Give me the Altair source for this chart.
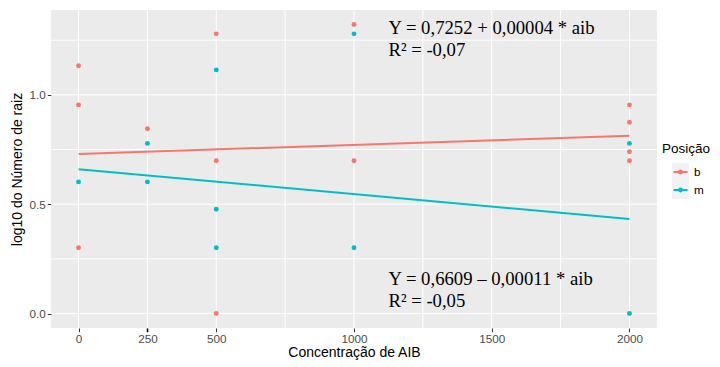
import altair as alt
import pandas as pd

# ---- data ----
b_x = [0, 0, 0, 250, 500, 500, 500, 1000, 1000, 2000, 2000, 2000, 2000]
b_y = [1.133, 0.954, 0.301, 0.845, 1.279, 0.699, 0.0, 1.322, 0.699, 0.954, 0.875, 0.740, 0.699]
m_x = [0, 250, 250, 500, 500, 500, 1000, 1000, 2000, 2000]
m_y = [0.602, 0.778, 0.602, 1.114, 0.477, 0.301, 1.279, 0.301, 0.778, 0.0]

line_x = [0, 2000]
b_line_y = [0.730, 0.813]
m_line_y = [0.660, 0.432]

groups = ["b", "m"]
colors = ["#F8766D", "#00BFC4"]

x_ticks = [0, 250, 500, 1000, 1500, 2000]
y_ticks = [0.0, 0.5, 1.0]
x_grid = [0, 250, 500, 750, 1000, 1250, 1500, 1750, 2000]
y_grid = [0.0, 0.25, 0.5, 0.75, 1.0, 1.25]

ann_x = [1125, 1125, 1125, 1125]
ann_y = [1.276, 1.176, 0.131, 0.031]
ann_text = ["Y = 0,7252 + 0,00004 * aib", "R² = -0,07",
            "Y = 0,6609 – 0,00011 * aib", "R² = -0,05"]

x_domain = [-100, 2100]
y_domain = [-0.066, 1.388]

# ---- tables ----
pts = pd.DataFrame({
    "x": b_x + m_x,
    "y": b_y + m_y,
    "g": ["b"] * len(b_x) + ["m"] * len(m_x),
})
lines = pd.DataFrame({
    "x": line_x + line_x,
    "y": b_line_y + m_line_y,
    "g": ["b"] * 2 + ["m"] * 2,
})
ann = pd.DataFrame({"x": ann_x, "y": ann_y, "t": ann_text})
xg = pd.DataFrame({"x": x_grid})
yg = pd.DataFrame({"y": y_grid})
leg = pd.DataFrame({"g": groups, "i": list(range(len(groups)))})

W, H = 606, 318
xs = alt.Scale(domain=x_domain, nice=False, zero=False)
ys = alt.Scale(domain=y_domain, nice=False, zero=False)
cs = alt.Scale(domain=groups, range=colors)

label_font = "Liberation Sans"

x_axis = alt.Axis(
    values=x_ticks, format="d", title="Concentração de AIB", grid=False, domain=False,
    labelFont=label_font, labelFontSize=11.7, labelColor="#4D4D4D",
    labelPadding=2,
    tickColor=alt.ExprRef("datum.value == 250 ? '#000000' : '#333333'"),
    tickWidth=alt.ExprRef("datum.value == 250 ? 1.6 : 1"),
    tickSize=3.7, titleFont=label_font, titleFontSize=14,
    titleFontWeight="normal", titleColor="black", titlePadding=0,
    labelFlush=False,
)
y_axis = alt.Axis(
    values=y_ticks, format=".1f", title="log10 do Número de raiz", grid=False,
    domain=False, labelFont=label_font, labelFontSize=11.7, labelColor="#4D4D4D",
    labelPadding=2, tickColor="#333333", tickSize=3.7, titleFont=label_font,
    titleFontSize=14, titleFontWeight="normal", titleColor="black",
    titlePadding=5, labelFlush=False,
)

vgrid = alt.Chart(xg).mark_rule(color="white", strokeWidth=1).encode(
    x=alt.X("x:Q", scale=xs, axis=x_axis)
)
hgrid = alt.Chart(yg).mark_rule(color="white", strokeWidth=1).encode(
    y=alt.Y("y:Q", scale=ys, axis=y_axis)
)
line_layer = alt.Chart(lines).mark_line(strokeWidth=2).encode(
    x=alt.X("x:Q", scale=xs),
    y=alt.Y("y:Q", scale=ys),
    color=alt.Color("g:N", scale=cs, legend=None),
    detail="g:N",
)
pt_layer = alt.Chart(pts).mark_circle(size=24, opacity=1).encode(
    x=alt.X("x:Q", scale=xs),
    y=alt.Y("y:Q", scale=ys),
    color=alt.Color("g:N", scale=cs, legend=None),
)
ann_layer = alt.Chart(ann).mark_text(
    align="left", baseline="alphabetic", font="Liberation Serif",
    fontSize=18.7, color="black"
).encode(
    x=alt.X("x:Q", scale=xs),
    y=alt.Y("y:Q", scale=ys),
    text="t:N",
)

main = alt.layer(vgrid, hgrid, line_layer, pt_layer, ann_layer).properties(
    width=W, height=H, view=alt.ViewBackground(fill="#EBEBEB", stroke=None)
)

# ---- custom legend panel (keys stacked, 18px each) ----
ly = alt.Scale(domain=[-9.0, 8.667], reverse=True, nice=False, zero=False)
LW = 44
base_leg = alt.Chart(leg).transform_calculate(
    i0="datum.i - 0.5", i1="datum.i + 0.5", it="datum.i - 1.28"
)
leg_box = base_leg.mark_rect(color="#F2F2F2").encode(
    y=alt.Y("i0:Q", scale=ly, axis=None), y2="i1:Q",
    x=alt.value(13), x2=alt.value(30),
)
leg_line = base_leg.mark_rule(strokeWidth=2).encode(
    y=alt.Y("i:Q", scale=ly, axis=None),
    x=alt.value(14.5), x2=alt.value(28.5),
    color=alt.Color("g:N", scale=cs, legend=None),
)
leg_pt = base_leg.mark_circle(size=24, opacity=1).encode(
    y=alt.Y("i:Q", scale=ly, axis=None),
    x=alt.value(21.5),
    color=alt.Color("g:N", scale=cs, legend=None),
)
leg_txt = base_leg.mark_text(
    align="left", baseline="middle", font=label_font, fontSize=11.7, color="black"
).encode(
    y=alt.Y("i:Q", scale=ly, axis=None),
    x=alt.value(35),
    text="g:N",
)
leg_title = base_leg.transform_filter("datum.i == 0").mark_text(
    align="left", baseline="middle", font=label_font, fontSize=13.5,
    color="black"
).encode(
    y=alt.Y("it:Q", scale=ly, axis=None),
    x=alt.value(3),
    text=alt.value("Posição"),
)
legend_panel = alt.layer(leg_box, leg_line, leg_pt, leg_txt, leg_title).properties(
    width=LW, height=H, view=alt.ViewBackground(fill="white", stroke=None)
)

chart = alt.hconcat(main, legend_panel, spacing=1).properties(
    padding={"left": 2, "top": 1, "right": 0, "bottom": 0},
    background="white",
).configure_view(stroke=None)

chart.save("out.html", embed_options={"renderer": "svg", "actions": False})
